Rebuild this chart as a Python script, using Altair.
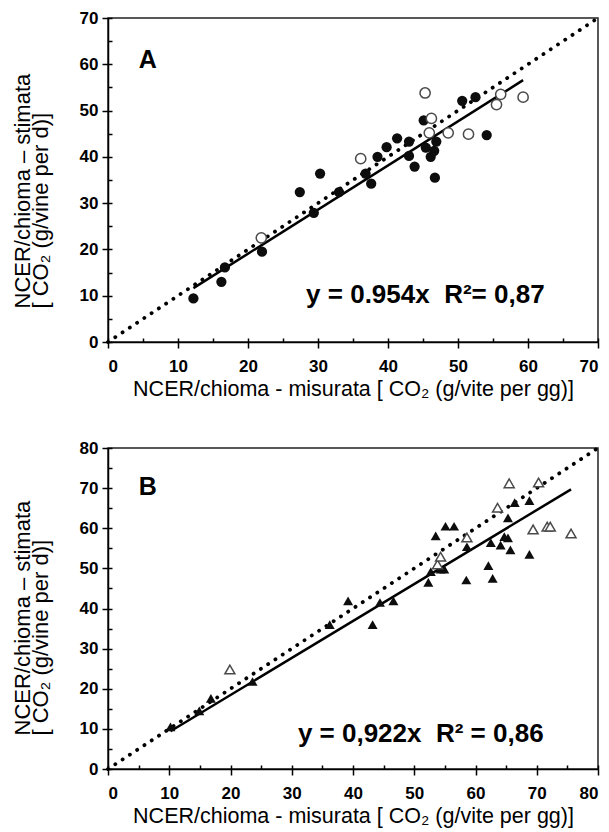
import altair as alt
import pandas as pd

FONT = "Liberation Sans"

# ---- Panel A: canopy NCER, estimated vs measured (circles) ----
a_fill_x = [12.2, 16.2, 16.7, 22.0, 27.4, 30.3, 29.4, 33.0, 36.8, 37.6, 38.5, 39.8, 41.3,
            43.0, 43.0, 43.8, 45.1, 45.4, 46.1, 46.6, 46.9, 46.7, 50.6, 52.5, 54.1]
a_fill_y = [9.4, 13.0, 16.1, 19.5, 32.4, 36.4, 27.9, 32.4, 36.4, 34.2, 40.0, 42.1, 44.0,
            43.3, 40.2, 37.9, 47.9, 42.0, 40.0, 41.3, 43.3, 35.5, 52.1, 52.9, 44.7]
a_open_x = [21.9, 36.1, 45.3, 46.2, 45.9, 48.6, 51.5, 55.5, 56.1, 59.3]
a_open_y = [22.5, 39.6, 53.8, 48.3, 45.2, 45.2, 44.9, 51.3, 53.5, 52.9]
a_slope = 0.954
a_equation = "y = 0.954x\u00a0 R\u00b2= 0,87"

# ---- Panel B: canopy NCER, estimated vs measured (triangles) ----
b_fill_x = [10.2, 14.9, 16.8, 23.6, 36.2, 39.2, 43.2, 44.4, 46.6, 52.3, 52.7, 54.3, 54.9,
            53.5, 55.1, 56.5, 58.6, 58.5, 62.1, 62.5, 62.8, 64.1, 64.7, 65.3, 65.7, 65.3,
            66.4, 68.8, 68.8]
b_fill_y = [10.5, 14.5, 17.6, 21.8, 36.0, 41.9, 36.0, 41.5, 41.9, 46.5, 49.2, 49.8, 49.8,
            58.1, 60.5, 60.5, 55.4, 47.1, 50.7, 56.4, 47.5, 55.8, 57.9, 57.6, 54.6, 62.6,
            66.4, 66.9, 53.5]
b_open_x = [19.9, 53.8, 54.3, 58.6, 63.6, 65.5, 70.3, 69.4, 71.7, 72.2, 75.6]
b_open_y = [24.8, 51.0, 52.9, 57.7, 65.1, 71.2, 71.4, 59.7, 60.4, 60.4, 58.7]
b_slope = 0.922
b_equation = "y = 0,922x\u00a0 R\u00b2 = 0,86"

x_title = "NCER/chioma - misurata [ CO\u2082 (g/vite per gg)]"
y_title = ["NCER/chioma \u2013 stimata", "[ CO\u2082 (g/vine per d)]"]


def panel(fx, fy, ox, oy, shape, slope, equation, letter, letter_xy, eq_xy,
          vmax, width, height, point_size):
    xs = alt.Scale(domain=[0, vmax], nice=False, zero=True)
    ys = alt.Scale(domain=[0, vmax], nice=False, zero=True)

    major = list(range(0, vmax + 1, 10))
    minor = list(range(0, vmax + 1, 5))

    x_axis = alt.Axis(values=major, tickSize=6, labelPadding=10, title=x_title,
                      titlePadding=4, titleFontSize=21.5, grid=False)
    y_axis = alt.Axis(values=major, tickSize=6, labelPadding=4, title=y_title,
                      titleAngle=270, titleAlign="left", titleBaseline="top",
                      titleX=-96, titleY=height - 34, titleLineHeight=18, grid=False)
    x_minor = alt.Axis(values=minor, tickSize=4, offset=-4, orient="bottom", labels=False,
                       domain=False, title=None, grid=False)
    y_minor = alt.Axis(values=minor, tickSize=4, offset=-4, orient="left", labels=False,
                       domain=False, title=None, grid=False)

    all_x = fx + ox
    ref = pd.DataFrame({"x": [0, vmax], "y": [0, vmax]})
    fit = pd.DataFrame({"x": [min(all_x), max(all_x)],
                        "y": [slope * min(all_x), slope * max(all_x)]})
    filled = pd.DataFrame({"x": fx, "y": fy})
    hollow = pd.DataFrame({"x": ox, "y": oy})
    letters = pd.DataFrame({"x": [letter_xy[0]], "y": [letter_xy[1]], "t": [letter]})
    eqs = pd.DataFrame({"x": [eq_xy[0]], "y": [eq_xy[1]], "t": [equation]})

    one_to_one = alt.Chart(ref).mark_line(
        color="black", strokeWidth=3.8, strokeDash=[0.1, 8.6], strokeCap="round"
    ).encode(x=alt.X("x:Q", scale=xs, axis=x_axis), y=alt.Y("y:Q", scale=ys, axis=y_axis))

    regression = alt.Chart(fit).mark_line(color="black", strokeWidth=2.5).encode(
        x=alt.X("x:Q", scale=xs, axis=x_minor), y=alt.Y("y:Q", scale=ys, axis=y_minor))

    pts_filled = alt.Chart(filled).mark_point(
        shape=shape, filled=True, color="#0d0d0d", size=point_size, opacity=1
    ).encode(x=alt.X("x:Q", scale=xs, axis=None), y=alt.Y("y:Q", scale=ys, axis=None))

    pts_open = alt.Chart(hollow).mark_point(
        shape=shape, filled=True, fill="white", stroke="#4a4a4a", strokeWidth=1.5,
        size=point_size, opacity=1
    ).encode(x=alt.X("x:Q", scale=xs, axis=None), y=alt.Y("y:Q", scale=ys, axis=None))

    letter_txt = alt.Chart(letters).mark_text(
        align="center", baseline="alphabetic", font=FONT, fontSize=25, fontWeight="bold",
        color="black"
    ).encode(x=alt.X("x:Q", scale=xs, axis=None), y=alt.Y("y:Q", scale=ys, axis=None),
             text="t:N")

    eq_txt = alt.Chart(eqs).mark_text(
        align="left", baseline="alphabetic", font=FONT, fontSize=26, fontWeight="bold",
        color="black"
    ).encode(x=alt.X("x:Q", scale=xs, axis=None), y=alt.Y("y:Q", scale=ys, axis=None),
             text="t:N")

    return alt.layer(one_to_one, regression, pts_filled, pts_open, letter_txt, eq_txt).resolve_axis(
        x="independent", y="independent"
    ).properties(width=width, height=height)


chart_a = panel(a_fill_x, a_fill_y, a_open_x, a_open_y, "circle", a_slope, a_equation,
                "A", (5.7, 59.2), (28.3, 8.4), 70, 490, 324, 105)
chart_b = panel(b_fill_x, b_fill_y, b_open_x, b_open_y, "triangle-up", b_slope, b_equation,
                "B", (6.5, 68.3), (31.0, 6.7), 80, 490, 321, 100)

chart = alt.vconcat(chart_a, chart_b, spacing=37).properties(
    padding={"left": 10, "top": 8, "right": 2, "bottom": 2},
    background="white",
).configure_view(
    stroke="#222", strokeWidth=1.5
).configure_axis(
    domainColor="black", domainWidth=1.5, tickColor="black", tickWidth=1.5,
    labelFont=FONT, labelFontSize=17, labelFontWeight="bold", labelColor="black",
    titleFont=FONT, titleFontSize=22, titleFontWeight="normal", titleColor="black",
)

chart.save("out.html", embed_options={"renderer": "svg", "actions": False})
